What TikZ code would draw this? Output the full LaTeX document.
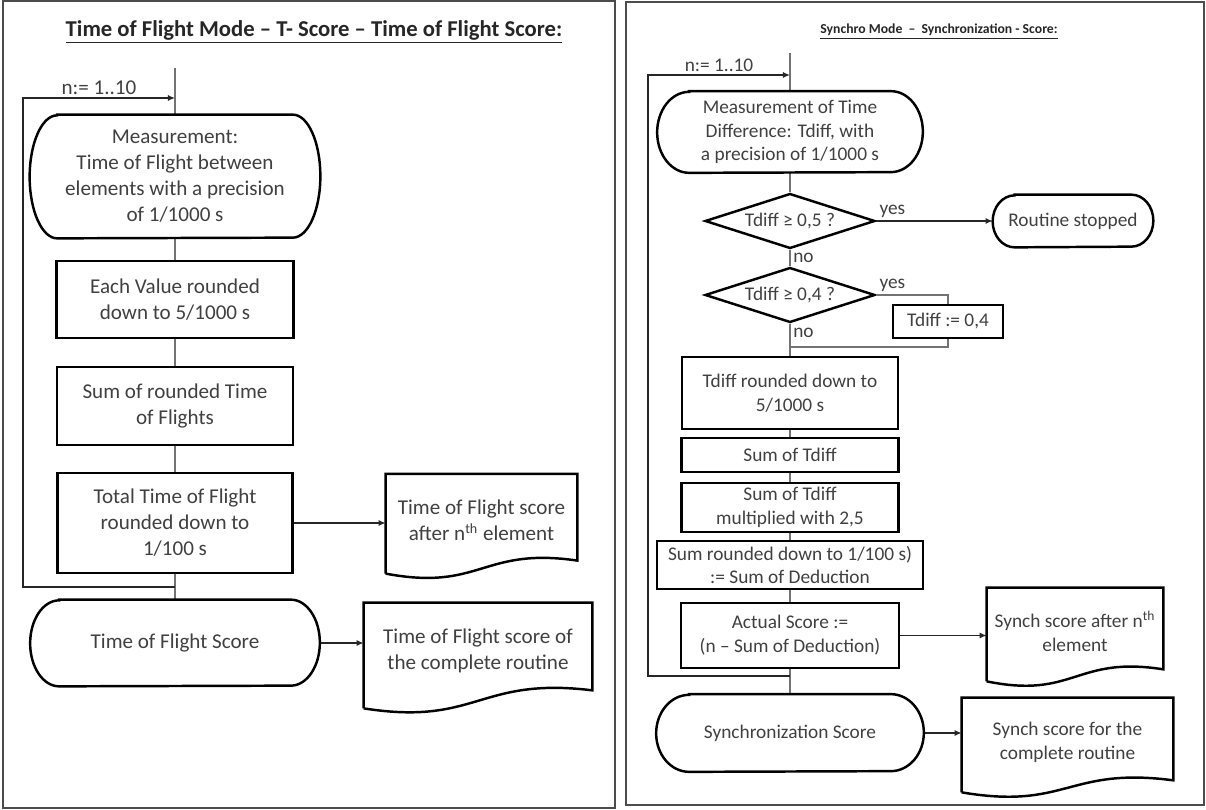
\documentclass[tikz,border=0pt]{standalone}
\usepackage{fontspec}
\setmainfont{Carlito}
\usetikzlibrary{shapes.geometric,arrows.meta}

\newcommand*{\ltrunk}{3.5}
\newcommand*{\rtrunk}{15.8}
\newcommand*{\lfont}{\fontsize{12}{14.8}\selectfont}
\newcommand*{\rfont}{\fontsize{11}{13.6}\selectfont}

\begin{document}
\begin{tikzpicture}
[
	>={Latex[length=4pt,width=3.5pt]},
	panel/.style={draw=black!70,line width=0.6pt},
	heading/.style={text=black!85,inner sep=0pt},
	outline/.style={draw=black,line width=1.4pt},
	box/.style={outline,rectangle,align=center,inner sep=1pt,text=black!75},
	term/.style={rectangle,align=center,inner sep=1pt,text=black!75},
	doc/.style={rectangle,align=center,inner sep=1pt,text=black!75},
	decision/.style={outline,diamond,aspect=3,inner sep=0pt,align=center,text=black!75},
	conn/.style={draw=black!55,line width=0.8pt},
	conarrow/.style={->,draw=black!85,line width=0.8pt},
	tag/.style={text=black!75,inner sep=1.5pt}
]

	\useasboundingbox (0,0) rectangle (24.12,-16.2);

	% left panel
	\draw[panel] (0.06,-0.02) rectangle (12.3,-16.16);
	\node[heading,font=\fontsize{12.9}{15}\selectfont\bfseries] (ltitle) at (6.28,-0.64)
		{\underline{Time of Flight Mode – T- Score – Time of Flight Score:}};

	\coordinate (ltop) at (\ltrunk,-1.36);
	\coordinate (lloopt) at (0.46,-1.96);
	\coordinate (lloopb) at (0.46,-11.74);

	\node[term,font=\lfont,minimum width=5.8cm,minimum height=2.46cm] (meas) at (\ltrunk,-3.53)
		{Measurement:\\Time of Flight between\\elements with a precision\\of 1/1000 s};
	\node[box,font=\lfont,minimum width=4.74cm,minimum height=1.54cm] (value) at (\ltrunk,-5.99)
		{Each Value rounded\\down to 5/1000 s};
	\node[box,font=\lfont,minimum width=4.72cm,minimum height=1.56cm] (sum) at (\ltrunk,-8.12)
		{Sum of rounded Time\\of Flights};
	\node[box,font=\lfont,minimum width=4.7cm,minimum height=2cm] (total) at (\ltrunk,-10.46)
		{Total Time of Flight\\rounded down to\\1/100 s};
	\node[doc,font=\lfont,minimum width=3.82cm,minimum height=1.85cm] (tofafter) at (9.63,-10.41)
		{Time of Flight score\\after n\textsuperscript{th} element};
	\node[term,font=\lfont,minimum width=5.78cm,minimum height=1.72cm] (tofscore) at (\ltrunk,-12.86)
		{Time of Flight Score};
	\node[doc,font=\lfont,minimum width=4.56cm,minimum height=1.92cm] (tofroutine) at (9.56,-13.02)
		{Time of Flight score of\\the complete routine};

	% left connectors
	\draw[conn] (ltop) -- (meas.north);
	\draw[conn] (meas.south) -- (value.north);
	\draw[conn] (value.south) -- (sum.north);
	\draw[conn] (sum.south) -- (total.north);
	\draw[conn] (total.south) -- (tofscore.north);
	\draw[conarrow] (total.east) -- (total.east -| tofafter.west);
	\draw[conarrow] (tofscore.east) -- (tofscore.east -| tofroutine.west);
	\draw[conarrow] (lloopb -| total.south) -- (lloopb) -- (lloopt)
		-- node[tag,above,font=\lfont] {n:= 1..10} (lloopt -| meas.north);

	% right panel
	\draw[panel] (12.52,-0.04) rectangle (24.08,-16.1);
	\node[heading,font=\fontsize{7.8}{9.5}\selectfont\bfseries] (rtitle) at (18.78,-0.64)
		{\underline{Synchro Mode\ \ –\ \ Synchronization - Score:}};

	\coordinate (rtop) at (\rtrunk,-1.06);
	\coordinate (rloopt) at (12.96,-1.5);
	\coordinate (rloopb) at (12.96,-13.52);
	\coordinate (join) at (\rtrunk,-6.94);

	\node[term,font=\rfont,minimum width=5.3cm,minimum height=1.62cm] (diffmeas) at (\rtrunk,-2.64)
		{Measurement of Time\\Difference: Tdiff, with\\a precision of 1/1000 s};
	\node[decision,font=\rfont,minimum width=3.4cm,minimum height=1.1cm] (check1) at (\rtrunk,-4.42)
		{Tdiff ≥ 0,5 ?};
	\node[term,font=\rfont,minimum width=3.2cm,minimum height=1.04cm] (stopped) at (21.46,-4.42)
		{Routine stopped};
	\node[decision,font=\rfont,minimum width=3.4cm,minimum height=1.1cm] (check2) at (\rtrunk,-5.9)
		{Tdiff ≥ 0,4 ?};
	\node[box,font=\rfont,minimum width=2.2cm,minimum height=0.66cm] (clip) at (18.96,-6.43)
		{Tdiff := 0,4};
	\node[box,font=\rfont,minimum width=4.32cm,minimum height=1.44cm] (rounded) at (\rtrunk,-7.86)
		{Tdiff rounded down to\\5/1000 s};
	\node[box,font=\rfont,minimum width=4.34cm,minimum height=0.68cm] (sumdiff) at (\rtrunk,-9.1)
		{Sum of Tdiff};
	\node[box,font=\rfont,minimum width=4.34cm,minimum height=0.98cm] (multiplied) at (\rtrunk,-10.15)
		{Sum of Tdiff\\multiplied with 2,5};
	\node[box,font=\rfont,minimum width=5.32cm,minimum height=0.96cm] (deduction) at (\rtrunk,-11.3)
		{Sum rounded down to 1/100 s)\\:= Sum of Deduction};
	\node[box,font=\rfont,minimum width=4.36cm,minimum height=1.3cm] (actual) at (\rtrunk,-12.71)
		{Actual Score :=\\(n – Sum of Deduction)};
	\node[doc,font=\rfont,minimum width=3.52cm,minimum height=1.74cm] (synchafter) at (21.5,-12.63)
		{Synch score after n\textsuperscript{th}\\element};
	\node[term,font=\rfont,minimum width=5.34cm,minimum height=1.54cm] (synchscore) at (\rtrunk,-14.66)
		{Synchronization Score};
	\node[doc,font=\rfont,minimum width=4.22cm,minimum height=1.76cm] (synchroutine) at (21.35,-14.84)
		{Synch score for the\\complete routine};

	% right connectors
	\draw[conn] (rtop) -- (diffmeas.north);
	\draw[conn] (diffmeas.south) -- (check1.north);
	\draw[conarrow] (check1.east) -- node[tag,above right,pos=0,font=\rfont] {yes} (stopped.west);
	\draw[conn] (check1.south) -- node[tag,right,font=\rfont] {no} (check2.north);
	\draw[conn] (check2.east) -| node[tag,above right,pos=0,font=\rfont] {yes} (clip.north);
	\draw[conn] (clip.south) |- (join);
	\draw[conn] (check2.south) -- node[tag,right,pos=0.3,font=\rfont] {no} (rounded.north);
	\draw[conn] (rounded.south) -- (sumdiff.north);
	\draw[conn] (sumdiff.south) -- (multiplied.north);
	\draw[conn] (multiplied.south) -- (deduction.north);
	\draw[conn] (deduction.south) -- (actual.north);
	\draw[conn] (actual.south) -- (synchscore.north);
	\draw[conarrow] (actual.east) -- (actual.east -| synchafter.west);
	\draw[conarrow] (synchscore.east) -- (synchscore.east -| synchroutine.west);
	\draw[conarrow] (rloopb -| actual.south) -- (rloopb) -- (rloopt)
		-- node[tag,above,font=\rfont] {n:= 1..10} (rloopt -| diffmeas.north);

	% terminator outlines
	\foreach \t/\rx/\ry in {meas/0.55/1.23, tofscore/0.58/0.86, diffmeas/0.64/0.81,
		stopped/0.44/0.52, synchscore/0.66/0.77} {
		\draw[outline] ([xshift=\rx cm]\t.north west) -- ([xshift=-\rx cm]\t.north east)
			arc[start angle=90,end angle=-90,x radius=\rx cm,y radius=\ry cm]
			-- ([xshift=\rx cm]\t.south west)
			arc[start angle=270,end angle=90,x radius=\rx cm,y radius=\ry cm] -- cycle;
	}

	% document outlines
	\foreach \d/\hw/\dy in {tofafter/1.91/0.13, tofroutine/2.28/0.18,
		synchafter/1.76/0.12, synchroutine/2.11/0.12} {
		\draw[outline] ([yshift=-\dy cm]\d.south west) -- (\d.north west) -- (\d.north east)
			-- ([yshift=\dy cm]\d.south east)
			.. controls +(-\hw,0.28) and +(\hw,-0.36) .. ([yshift=-\dy cm]\d.south west);
	}

\end{tikzpicture}
\end{document}
